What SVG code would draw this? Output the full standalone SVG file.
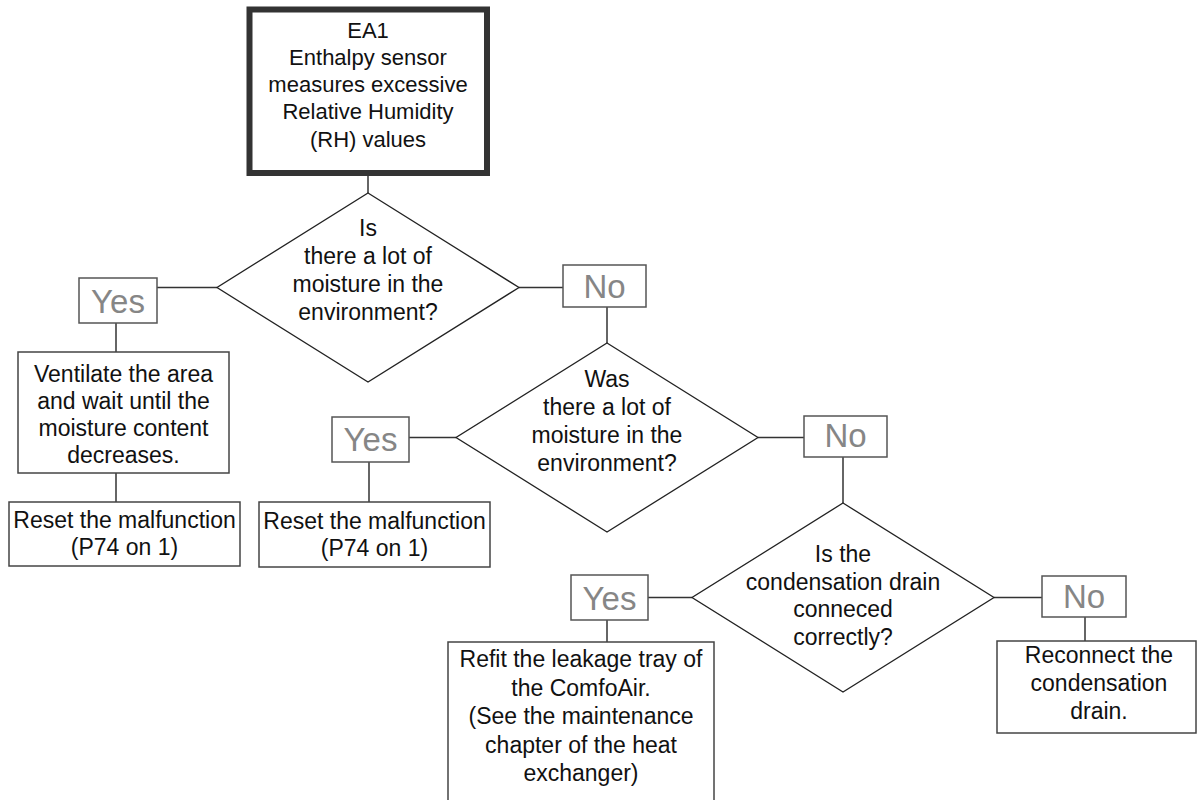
<svg xmlns="http://www.w3.org/2000/svg" width="1197" height="800" viewBox="0 0 1197 800">
<style>
  text { font-family: "Liberation Sans", Arial, Helvetica, sans-serif; fill: #111; text-anchor: middle; }
  .t { font-size: 23px; }
  .top { font-size: 22px; }
  .yn { font-size: 33px; fill: #868686; }
  .box { fill: #fff; stroke: #444; stroke-width: 1.5; }
  .lbl { fill: #fff; stroke: #555; stroke-width: 1.5; }
  .dia { fill: #fff; stroke: #222; stroke-width: 1.3; }
  .conn line { stroke: #333; stroke-width: 1.5; }
</style>
<rect width="1197" height="800" fill="#fff"/>
<g class="conn" id="connectors">
  <line x1="368" y1="176" x2="368" y2="193"/>
  <line x1="157" y1="287.5" x2="217" y2="287.5"/>
  <line x1="519" y1="287.5" x2="563" y2="287.5"/>
  <line x1="116" y1="323" x2="116" y2="352"/>
  <line x1="116" y1="473" x2="116" y2="502"/>
  <line x1="607" y1="307" x2="607" y2="343"/>
  <line x1="409" y1="437.5" x2="456" y2="437.5"/>
  <line x1="758" y1="437.5" x2="804" y2="437.5"/>
  <line x1="369" y1="462" x2="369" y2="502"/>
  <line x1="843" y1="457" x2="843" y2="503"/>
  <line x1="648" y1="597.5" x2="692" y2="597.5"/>
  <line x1="994" y1="597.5" x2="1042" y2="597.5"/>
  <line x1="607" y1="620" x2="607" y2="642"/>
  <line x1="1085" y1="617" x2="1085" y2="641"/>
</g>
<g id="start">
  <rect x="249.5" y="9.5" width="237.5" height="163.5" fill="#fff" stroke="#333" stroke-width="6"/>
  <text class="top" x="368" y="37.5">EA1</text>
  <text class="top" x="368" y="64.8">Enthalpy sensor</text>
  <text class="top" x="368" y="92.1">measures excessive</text>
  <text class="top" x="368" y="119.4">Relative Humidity</text>
  <text class="top" x="368" y="146.7">(RH) values</text>
</g>
<g id="q1">
  <polygon class="dia" points="368,193 519,287.5 368,382 217,287.5"/>
  <text class="t" x="368" y="236">Is</text>
  <text class="t" x="368" y="264">there a lot of</text>
  <text class="t" x="368" y="292">moisture in the</text>
  <text class="t" x="368" y="320">environment?</text>
</g>
<g id="yes1">
  <rect class="lbl" x="79" y="278" width="78" height="45"/>
  <text class="yn" x="118" y="313">Yes</text>
</g>
<g id="no1">
  <rect class="lbl" x="563" y="265" width="83" height="42"/>
  <text class="yn" x="604.5" y="298">No</text>
</g>
<g id="ventilate">
  <rect class="box" x="18" y="352" width="211" height="121"/>
  <text class="t" x="123.5" y="382">Ventilate the area</text>
  <text class="t" x="123.5" y="409">and wait until the</text>
  <text class="t" x="123.5" y="436">moisture content</text>
  <text class="t" x="123.5" y="463">decreases.</text>
</g>
<g id="reset1">
  <rect class="box" x="9" y="502" width="231" height="64"/>
  <text class="t" x="124.5" y="528">Reset the malfunction</text>
  <text class="t" x="124.5" y="555">(P74 on 1)</text>
</g>
<g id="q2">
  <polygon class="dia" points="607,343 758,437.5 607,532 456,437.5"/>
  <text class="t" x="607" y="387">Was</text>
  <text class="t" x="607" y="415">there a lot of</text>
  <text class="t" x="607" y="443">moisture in the</text>
  <text class="t" x="607" y="471">environment?</text>
</g>
<g id="yes2">
  <rect class="lbl" x="332" y="417" width="77" height="45"/>
  <text class="yn" x="370.5" y="451">Yes</text>
</g>
<g id="reset2">
  <rect class="box" x="259" y="502" width="231" height="65"/>
  <text class="t" x="374.5" y="529">Reset the malfunction</text>
  <text class="t" x="374.5" y="556">(P74 on 1)</text>
</g>
<g id="no2">
  <rect class="lbl" x="804" y="416" width="83" height="41"/>
  <text class="yn" x="845.5" y="447">No</text>
</g>
<g id="q3">
  <polygon class="dia" points="843,503 994,597.5 843,692 692,597.5"/>
  <text class="t" x="843" y="562">Is the</text>
  <text class="t" x="843" y="590">condensation drain</text>
  <text class="t" x="843" y="617">conneced</text>
  <text class="t" x="843" y="645">correctly?</text>
</g>
<g id="yes3">
  <rect class="lbl" x="571" y="575" width="77" height="45"/>
  <text class="yn" x="609.5" y="610">Yes</text>
</g>
<g id="refit">
  <rect class="box" x="448" y="642" width="266" height="165"/>
  <text class="t" x="581" y="667">Refit the leakage tray of</text>
  <text class="t" x="581" y="696">the ComfoAir.</text>
  <text class="t" x="581" y="724">(See the maintenance</text>
  <text class="t" x="581" y="753">chapter of the heat</text>
  <text class="t" x="581" y="781">exchanger)</text>
</g>
<g id="no3">
  <rect class="lbl" x="1042" y="576" width="84" height="41"/>
  <text class="yn" x="1084" y="608">No</text>
</g>
<g id="reconnect">
  <rect class="box" x="997" y="641" width="199" height="92"/>
  <text class="t" x="1099" y="663">Reconnect the</text>
  <text class="t" x="1099" y="691">condensation</text>
  <text class="t" x="1099" y="719">drain.</text>
</g>
</svg>
